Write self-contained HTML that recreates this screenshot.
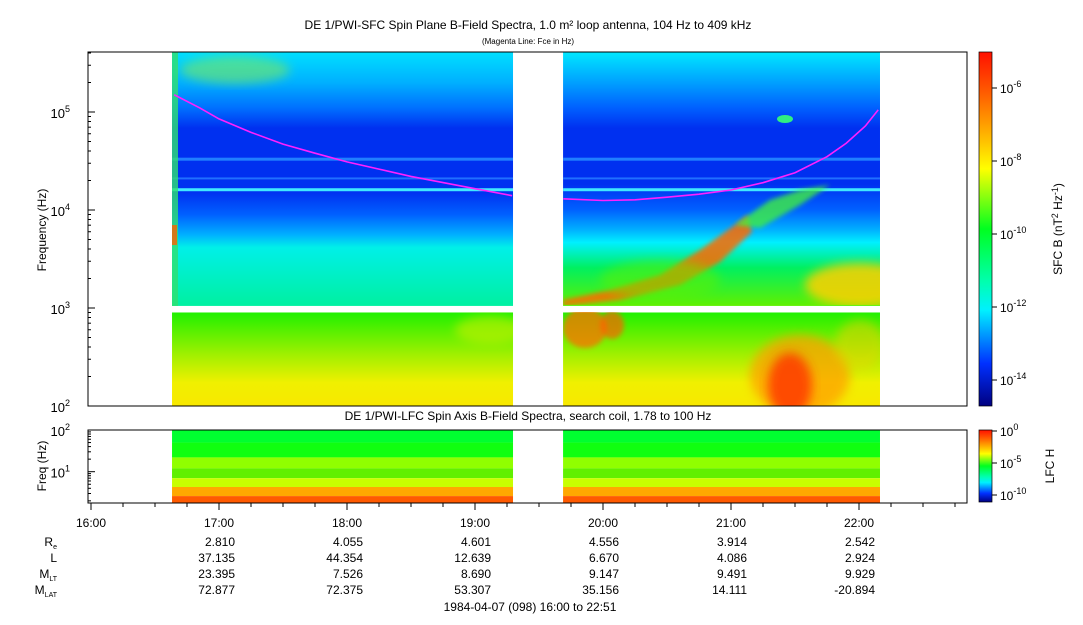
<!DOCTYPE html>
<html><head><meta charset="utf-8"><style>
body{margin:0;background:#fff;width:1083px;height:620px;overflow:hidden;font-family:"Liberation Sans",sans-serif}
svg text{font-family:"Liberation Sans",sans-serif;fill:#000}
</style></head><body>
<svg id="chart" width="1083" height="620" xmlns="http://www.w3.org/2000/svg">
<defs>
<filter id="blur" x="-20%" y="-20%" width="140%" height="140%"><feGaussianBlur stdDeviation="5"/></filter>
<filter id="blur2" x="-20%" y="-20%" width="140%" height="140%"><feGaussianBlur stdDeviation="2.5"/></filter>
<clipPath id="clipR1"><rect x="563" y="52" width="317" height="253"/></clipPath>
<clipPath id="clipR2"><rect x="563" y="312" width="317" height="94"/></clipPath>
<clipPath id="clipL1"><rect x="172" y="52" width="341" height="253"/></clipPath>
<clipPath id="clipL2"><rect x="172" y="312" width="341" height="94"/></clipPath>
<linearGradient id="jet" x1="0" y1="0" x2="0" y2="1">
<stop offset="0" stop-color="#ff1000"/><stop offset="0.12" stop-color="#ff6000"/><stop offset="0.25" stop-color="#ffc000"/><stop offset="0.33" stop-color="#ffff00"/><stop offset="0.5" stop-color="#00ff20"/><stop offset="0.65" stop-color="#00ffb0"/><stop offset="0.73" stop-color="#00f0ff"/><stop offset="0.88" stop-color="#0030ff"/><stop offset="1" stop-color="#000080"/></linearGradient>
<linearGradient id="sfcHi" x1="0" y1="0" x2="0" y2="1">
<stop offset="0" stop-color="#00e0ff"/><stop offset="0.12" stop-color="#00b0ff"/><stop offset="0.22" stop-color="#0070ff"/><stop offset="0.3" stop-color="#0030f0"/><stop offset="0.55" stop-color="#0030f0"/><stop offset="0.64" stop-color="#0060ff"/><stop offset="0.72" stop-color="#00b0ff"/><stop offset="0.77" stop-color="#00f0e8"/><stop offset="1" stop-color="#00f0a0"/></linearGradient>
<linearGradient id="sfcHiR" x1="0" y1="0" x2="0" y2="1">
<stop offset="0" stop-color="#00e8ff"/><stop offset="0.12" stop-color="#00a0ff"/><stop offset="0.22" stop-color="#0060ff"/><stop offset="0.3" stop-color="#0030f0"/><stop offset="0.52" stop-color="#0030f0"/><stop offset="0.62" stop-color="#0060ff"/><stop offset="0.7" stop-color="#00b0ff"/><stop offset="0.75" stop-color="#00f0ff"/><stop offset="0.85" stop-color="#00f060"/><stop offset="1" stop-color="#60f000"/></linearGradient>
<linearGradient id="sfcLo" x1="0" y1="0" x2="0" y2="1">
<stop offset="0" stop-color="#20f000"/><stop offset="0.45" stop-color="#a0f000"/><stop offset="0.75" stop-color="#f0f000"/><stop offset="1" stop-color="#f8e800"/></linearGradient>
</defs>
<g id="plot"></g>
<text x="528" y="29" text-anchor="middle" font-size="12">DE 1/PWI-SFC  Spin Plane B-Field Spectra, 1.0 m² loop antenna, 104 Hz to 409 kHz</text>
<text x="528" y="44" text-anchor="middle" font-size="8">(Magenta Line: Fce in Hz)</text>
<text x="528" y="420" text-anchor="middle" font-size="12">DE 1/PWI-LFC  Spin Axis B-Field Spectra, search coil, 1.78 to 100 Hz</text>
<text transform="translate(46,230) rotate(-90)" text-anchor="middle" font-size="12">Frequency (Hz)</text>
<text transform="translate(46,466) rotate(-90)" text-anchor="middle" font-size="12">Freq (Hz)</text>
<rect x="979" y="52" width="13" height="354" fill="url(#jet)" stroke="#000" stroke-width="0.7"/>
<rect x="979" y="430" width="13" height="72" fill="url(#jet)" stroke="#000" stroke-width="0.7"/>
<text transform="translate(1062,229) rotate(-90)" text-anchor="middle" font-size="12">SFC B (nT<tspan dy="-4" font-size="9">2</tspan><tspan dy="4"> Hz</tspan><tspan dy="-4" font-size="9">-1</tspan><tspan dy="4">)</tspan></text>
<text transform="translate(1054,466) rotate(-90)" text-anchor="middle" font-size="12">LFC H</text>
<text x="530" y="611" font-size="12" text-anchor="middle">1984-04-07 (098) 16:00 to 22:51</text>
</svg>
<script>
const hourTicks=[16,17,18,19,20,21,22];
const hourLabels=["16:00","17:00","18:00","19:00","20:00","21:00","22:00"];
const rowNames=["R","L","M","M"];
const rowSubs=["e","","LT","LAT"];
const reVals=["2.810","4.055","4.601","4.556","3.914","2.542"];
const lVals=["37.135","44.354","12.639","6.670","4.086","2.924"];
const mltVals=["23.395","7.526","8.690","9.147","9.491","9.929"];
const mlatVals=["72.877","72.375","53.307","35.156","14.111","-20.894"];
const segments=[[16.633,19.297],[19.688,22.164]];
const fceTimes1=[16.65,16.85,17.0,17.25,17.5,17.75,18.0,18.5,19.0,19.29];
const fceVals1=[150000,110000,85000,62000,47000,38000,31000,22000,16500,14000];
const fceTimes2=[19.69,20.0,20.25,20.5,20.75,21.0,21.25,21.5,21.75,21.9,22.05,22.15];
const fceVals2=[13000,12500,12700,13500,14500,16000,19000,24000,35000,48000,72000,105000];
const sfcTicks=[2,3,4,5];const lfcTicks=[1,2];
const cbTicks=[-6,-8,-10,-12,-14];const lfcCbTicks=[0,-5,-10];

const NS="http://www.w3.org/2000/svg";
const svg=document.getElementById('chart');const g=document.getElementById('plot');
const X=h=>91+(h-16)*128;
const Y=f=>406-98*(Math.log10(f)-2);
const YL=d=>430+(2-d)*41.7;
function el(t,a,p){const e=document.createElementNS(NS,t);for(const k in a)e.setAttribute(k,a[k]);(p||g).appendChild(e);return e;}
segments.forEach((s,i)=>{
 const x0=X(s[0]),x1=X(s[1]);
 let r=el('rect',{x:x0,y:52,width:x1-x0,height:Y(1050)-52,fill:i?'url(#sfcHiR)':'url(#sfcHi)'});
 
 r=el('rect',{x:x0,y:Y(900),width:x1-x0,height:406-Y(900),fill:'url(#sfcLo)'});
 
 [[16100,'#40e8ff',3],[21000,'#2070ff',2],[33000,'#2080ff',3]].forEach(l=>el('rect',{x:x0,y:Y(l[0])-l[2]/2,width:x1-x0,height:l[2],fill:l[1]}));
 const bands=[['#00ff30',100,50],['#10ff10',50,22],['#90ff00',22,12],['#60f000',12,7],['#c8ff00',7,4.3],['#ffa800',4.3,2.6],['#ff5a00',2.6,1.78]];
 bands.forEach(b=>{const y0=YL(Math.log10(b[1])),y1=YL(Math.log10(b[2]));
  const q=el('rect',{x:x0,y:y0,width:x1-x0,height:y1-y0,fill:b[0]});
  });
});
el('rect',{x:172,y:52,width:6,height:254,fill:'#30e070',opacity:0.8});
el('rect',{x:172,y:225,width:5,height:20,fill:'#ff6000',opacity:0.8});
const gl=el('g',{'clip-path':'url(#clipL1)'});
el('ellipse',{cx:235,cy:70,rx:55,ry:14,fill:'#90f040',opacity:0.5,filter:'url(#blur)'},gl);
const gl2=el('g',{'clip-path':'url(#clipL2)'});
el('ellipse',{cx:490,cy:330,rx:35,ry:14,fill:'#c8f000',opacity:0.6,filter:'url(#blur)'},gl2);
const g1=el('g',{'clip-path':'url(#clipR1)'});
el('polygon',{points:`563,300 610,290 660,275 700,250 735,225 748,215 752,232 720,262 680,285 620,300 563,306`,fill:'#ff6a00',opacity:0.85,filter:'url(#blur2)'},g1);
el('polygon',{points:`735,225 770,200 800,190 830,185 800,205 760,228`,fill:'#40f040',opacity:0.8,filter:'url(#blur2)'},g1);
el('ellipse',{cx:860,cy:285,rx:55,ry:22,fill:'#ffd000',opacity:0.85,filter:'url(#blur)'},g1);
el('ellipse',{cx:660,cy:280,rx:60,ry:20,fill:'#60f000',opacity:0.5,filter:'url(#blur)'},g1);
el('ellipse',{cx:785,cy:119,rx:8,ry:4,fill:'#30f080'},g1);
const g2=el('g',{'clip-path':'url(#clipR2)'});
el('ellipse',{cx:585,cy:328,rx:22,ry:20,fill:'#ff7000',opacity:0.75,filter:'url(#blur2)'},g2);
el('ellipse',{cx:612,cy:325,rx:12,ry:14,fill:'#ff6000',opacity:0.7,filter:'url(#blur2)'},g2);
el('ellipse',{cx:800,cy:375,rx:50,ry:40,fill:'#ffa000',opacity:0.75,filter:'url(#blur)'},g2);
el('ellipse',{cx:790,cy:385,rx:22,ry:32,fill:'#ff3000',opacity:0.8,filter:'url(#blur)'},g2);
el('ellipse',{cx:860,cy:345,rx:25,ry:25,fill:'#f0d000',opacity:0.5,filter:'url(#blur)'},g2);
[[fceTimes1,fceVals1],[fceTimes2,fceVals2]].forEach((p,i)=>{
 const pts=p[0].map((t,j)=>X(t)+','+Y(p[1][j])).join(' ');
 const l=el('polyline',{points:pts,fill:'none',stroke:'#ff20ff','stroke-width':1.6});
 
});
let f=el('rect',{x:88,y:52,width:879,height:354,fill:'none',stroke:'#000'},svg);

f=el('rect',{x:88,y:430,width:879,height:73,fill:'none',stroke:'#000'},svg);

sfcTicks.forEach(d=>{const y=Y(Math.pow(10,d));el('line',{x1:88,x2:95,y1:y,y2:y,stroke:'#000'},svg);
 for(let m=2;m<10;m++){const yy=Y(m*Math.pow(10,d));if(yy>52)el('line',{x1:88,x2:91,y1:yy,y2:yy,stroke:'#000'},svg);}
 const t=el('text',{x:70,y:y+6,'text-anchor':'end','font-size':13},svg);t.textContent='10';
 const s=el('tspan',{dy:-6,'font-size':9},t);s.textContent=d;
 });
[2,3,4,5,6,7,8,9,20,30,40,50,60,70,80,90].forEach(v=>{const y=YL(Math.log10(v));el('line',{x1:88,x2:91,y1:y,y2:y,stroke:'#000'},svg);});
lfcTicks.forEach(d=>{const y=YL(d);el('line',{x1:88,x2:95,y1:y,y2:y,stroke:'#000'},svg);
 const t=el('text',{x:70,y:y+6,'text-anchor':'end','font-size':13},svg);t.textContent='10';
 const s=el('tspan',{dy:-6,'font-size':9},t);s.textContent=d;
 });
cbTicks.forEach(d=>{const y=88+(-6-d)*36.5;el('line',{x1:992,x2:997,y1:y,y2:y,stroke:'#000'},svg);
 const t=el('text',{x:1000,y:y+5,'font-size':12},svg);t.textContent='10';const s=el('tspan',{dy:-6,'font-size':9},t);s.textContent=d;
 });
lfcCbTicks.forEach(d=>{const y=431+(-d)*6.4;el('line',{x1:992,x2:997,y1:y,y2:y,stroke:'#000'},svg);
 const t=el('text',{x:1000,y:y+5,'font-size':12},svg);t.textContent='10';const s=el('tspan',{dy:-6,'font-size':9},t);s.textContent=d;
 });
for(let k=0;k<=27;k++){const h=16+k*0.25;const x=X(h);if(x>968)break;const big=k%4==0;
 el('line',{x1:x,x2:x,y1:503,y2:503+(big?7:4),stroke:'#000'},svg);}
hourTicks.forEach((h,i)=>{const t=el('text',{x:X(h),y:527,'text-anchor':'middle','font-size':12},svg);t.textContent=hourLabels[i];
 });
const rows=[reVals,lVals,mltVals,mlatVals];const rowY=[546,562,578,594];
rows.forEach((vals,r)=>{const t=el('text',{x:57,y:rowY[r],'text-anchor':'end','font-size':12},svg);t.textContent=rowNames[r];
 if(rowSubs[r]){const s=el('tspan',{'font-size':7,dy:3},t);s.textContent=rowSubs[r];}
 
 vals.forEach((v,i)=>{const tt=el('text',{x:X(17+i)+16,y:rowY[r],'text-anchor':'end','font-size':12},svg);tt.textContent=v;
  });});
</script>
</body></html>
